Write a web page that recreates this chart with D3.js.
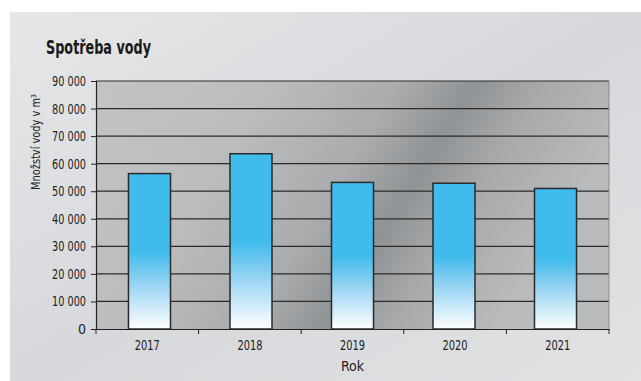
<!DOCTYPE html>
<html><head><meta charset="utf-8">
<script src="https://cdn.jsdelivr.net/npm/d3@7"></script>
<style>
html,body{margin:0;padding:0;background:#fff;}
svg{display:block;}
text{font-family:"DejaVu Sans Condensed","Liberation Sans Narrow",sans-serif;}
</style></head>
<body>
<svg id="c" width="641" height="381"></svg>
<script>
const categories = ["2017","2018","2019","2020","2021"];
const values = [56400, 63600, 53200, 52900, 51000];
const yTicks = [0,10000,20000,30000,40000,50000,60000,70000,80000,90000];
const title = "Spotřeba vody";
const xTitle = "Rok";
const yTitle = "Množství vody v m³";

const svg = d3.select("#c");
const defs = svg.append("defs");

const pg = defs.append("linearGradient").attr("id","panel").attr("x1","0").attr("y1","0").attr("x2","1").attr("y2","1");
pg.append("stop").attr("offset","0").attr("stop-color","#e6e7e9");
pg.append("stop").attr("offset","0.5").attr("stop-color","#d6d8db");
pg.append("stop").attr("offset","1").attr("stop-color","#e0e2e4");

const ag = defs.append("linearGradient").attr("id","plotbg").attr("x1","0").attr("y1","0").attr("x2","1").attr("y2","0.3");
ag.append("stop").attr("offset","0").attr("stop-color","#c1c3c5");
ag.append("stop").attr("offset","0.3").attr("stop-color","#bbbdbf");
ag.append("stop").attr("offset","0.55").attr("stop-color","#a9abad");
ag.append("stop").attr("offset","0.68").attr("stop-color","#909395");
ag.append("stop").attr("offset","0.8").attr("stop-color","#a7a9ab");
ag.append("stop").attr("offset","1").attr("stop-color","#b9bbbd");

const bg = defs.append("linearGradient").attr("id","bar").attr("x1","0").attr("y1","0").attr("x2","0").attr("y2","1");
bg.append("stop").attr("offset","0").attr("stop-color","#3fbbec");
bg.append("stop").attr("offset","0.5").attr("stop-color","#3fbbec");
bg.append("stop").attr("offset","0.7").attr("stop-color","#93d2f2");
bg.append("stop").attr("offset","1").attr("stop-color","#ffffff");

svg.append("rect").attr("x",10).attr("y",12).attr("width",631).attr("height",369).attr("fill","url(#panel)");

const m = {l:96, r:609, t:81, b:329};
const x = d3.scaleBand().domain(categories).range([m.l, m.r]).paddingInner(0.586).paddingOuter(0.32);
const xt = d3.scaleBand().domain(categories).range([m.l, m.r]);
const y = d3.scaleLinear().domain([0,90000]).range([m.b, m.t]);

svg.append("rect").attr("x",m.l).attr("y",m.t).attr("width",m.r-m.l).attr("height",m.b-m.t).attr("fill","url(#plotbg)");

// gridlines
svg.append("g").selectAll("line").data(yTicks.filter(d=>d>0)).join("line")
  .attr("x1",m.l).attr("x2",m.r).attr("y1",d=>y(d)).attr("y2",d=>y(d))
  .attr("stroke","#2a2a2a").attr("stroke-width",1.2);

// bars
svg.append("g").selectAll("rect").data(values).join("rect")
  .attr("x",(d,i)=>x(categories[i])).attr("width",x.bandwidth())
  .attr("y",d=>y(d)).attr("height",d=>y(0)-y(d))
  .attr("fill","url(#bar)").attr("stroke","#2a2a2a").attr("stroke-width",1.5);

// right border
svg.append("line").attr("x1",m.r).attr("x2",m.r).attr("y1",m.t).attr("y2",m.b).attr("stroke","#8a8a8a").attr("stroke-width",1);

// y axis
const ya = svg.append("g").attr("transform",`translate(${m.l},0)`)
  .call(d3.axisLeft(y).tickValues(yTicks).tickSize(5).tickPadding(5)
    .tickFormat(d=>d===0?"0":d3.format(",")(d).replace(/,/g," ")));
ya.select(".domain").attr("stroke","#222").attr("stroke-width",1.2);
ya.selectAll(".tick line").attr("stroke","#222");
ya.selectAll("text").attr("font-size",14).attr("fill","#222").attr("textLength",d=>d===0?null:34).attr("lengthAdjust","spacingAndGlyphs");

// x axis
const xa = svg.append("g").attr("transform",`translate(0,${m.b})`)
  .call(d3.axisBottom(xt).tickSize(0).tickPadding(11));
xa.select(".domain").attr("stroke","#222").attr("stroke-width",1.2);
xa.selectAll("text").attr("font-size",14).attr("fill","#222").attr("textLength",25).attr("lengthAdjust","spacingAndGlyphs");
const xTickPos = categories.map(c=>xt(c)).concat([m.r]);
svg.append("g").selectAll("line").data(xTickPos).join("line")
  .attr("x1",d=>d).attr("x2",d=>d).attr("y1",m.b).attr("y2",m.b+5)
  .attr("stroke","#222").attr("stroke-width",1);

svg.append("text").attr("x",(m.l+m.r)/2).attr("y",371).attr("text-anchor","middle")
  .attr("font-size",14).attr("fill","#222").text(xTitle);

svg.append("text").attr("transform","translate(40,142) rotate(-90)").attr("text-anchor","middle")
  .attr("font-size",13).attr("fill","#222").attr("textLength",96).attr("lengthAdjust","spacingAndGlyphs").text(yTitle);

svg.append("text").attr("x",46).attr("y",54).attr("font-size",19).attr("font-weight","bold")
  .attr("fill","#1a1a1a").attr("textLength",105).attr("lengthAdjust","spacingAndGlyphs").text(title);
</script>
</body></html>
